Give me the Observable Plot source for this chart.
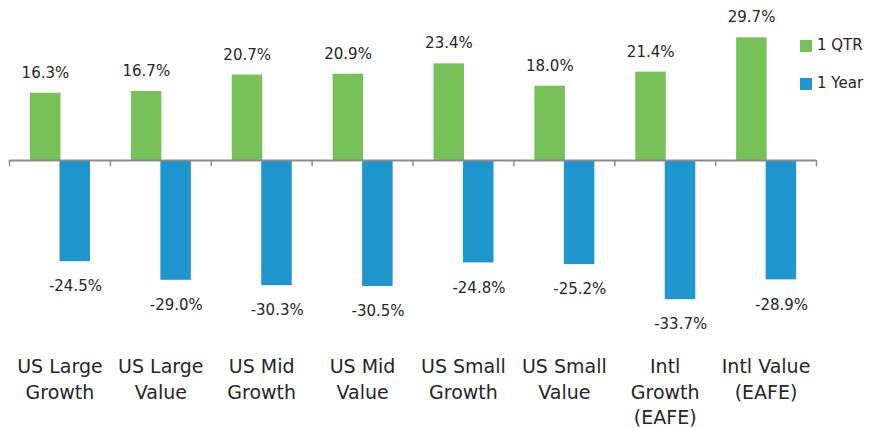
<!DOCTYPE html>
<html>
<head>
<meta charset="utf-8">
<script src="https://cdn.jsdelivr.net/npm/d3@7"></script>
<script src="https://cdn.jsdelivr.net/npm/@observablehq/plot@0.6"></script>
<style>
  body { margin: 0; background: #fff; }
  #wrap { position: relative; width: 872px; height: 428px; overflow: hidden; font-family: "DejaVu Sans", sans-serif; }
  .legend { position: absolute; left: 800px; font-size: 15px; color: #262626; white-space: nowrap; }
  .legend .sw { display: inline-block; width: 12px; height: 12px; vertical-align: middle; margin-right: 5px; }
</style>
</head>
<body>
<div id="wrap"></div>
<script>
const categories = ["US Large\nGrowth", "US Large\nValue", "US Mid\nGrowth", "US Mid\nValue", "US Small\nGrowth", "US Small\nValue", "Intl\nGrowth\n(EAFE)", "Intl Value\n(EAFE)"];
const qtrValues = [16.3, 16.7, 20.7, 20.9, 23.4, 18.0, 21.4, 29.7];
const yearValues = [-24.5, -29.0, -30.3, -30.5, -24.8, -25.2, -33.7, -28.9];
const seriesNames = ["1 QTR", "1 Year"];
const seriesColors = ["#77C159", "#1E95CD"];

const qtr = categories.map((c, i) => ({category: c, value: qtrValues[i]}));
const year = categories.map((c, i) => ({category: c, value: yearValues[i]}));

const width = 872, height = 428, marginLeft = 9, marginRight = 56;
const step = (width - marginLeft - marginRight) / categories.length;
const fmt = v => v.toFixed(1) + "%";

const chart = Plot.plot({
  width, height,
  marginLeft, marginRight, marginTop: 20, marginBottom: 90,
  style: {fontFamily: "DejaVu Sans, sans-serif", color: "#262626", background: "#fff"},
  x: {type: "band", domain: categories, padding: 0, round: false},
  y: {domain: [-43.1, 33.9], axis: null},
  marks: [
    Plot.barY(qtr, {x: "category", y: "value", fill: seriesColors[0], insetLeft: 21, insetRight: step - 51.5}),
    Plot.barY(year, {x: "category", y: "value", fill: seriesColors[1], insetLeft: 50.5, insetRight: step - 81}),
    Plot.ruleY([0], {stroke: "#8c8c8c", strokeWidth: 2}),
    Plot.ruleX(categories, {x: d => d, y1: 0, y2: -1.5, dx: -step / 2, stroke: "#8c8c8c", strokeWidth: 1.5}),
    Plot.ruleX(categories.slice(-1), {x: d => d, y1: 0, y2: -1.5, dx: step / 2, stroke: "#8c8c8c", strokeWidth: 1.5}),
    Plot.text(qtr, {x: "category", y: "value", text: d => fmt(d.value), dx: -14.5, dy: -15.5, lineAnchor: "bottom", fontSize: 15, fill: "#262626"}),
    Plot.text(year, {x: "category", y: "value", text: d => fmt(d.value), dx: 15.5, dy: 19, lineAnchor: "top", fontSize: 15, fill: "#262626"}),
    Plot.axisX({anchor: "bottom", tickSize: 0, tickPadding: 17, fontSize: 19, lineHeight: 1.33, label: null, fill: "#262626"})
  ]
});

const wrap = document.getElementById("wrap");
wrap.appendChild(chart);
const legendTops = [36, 74];
seriesNames.forEach((name, i) => {
  const d = document.createElement("div");
  d.className = "legend";
  d.style.top = legendTops[i] + "px";
  d.innerHTML = `<span class="sw" style="background:${seriesColors[i]}"></span>${name}`;
  wrap.appendChild(d);
});
</script>
</body>
</html>
